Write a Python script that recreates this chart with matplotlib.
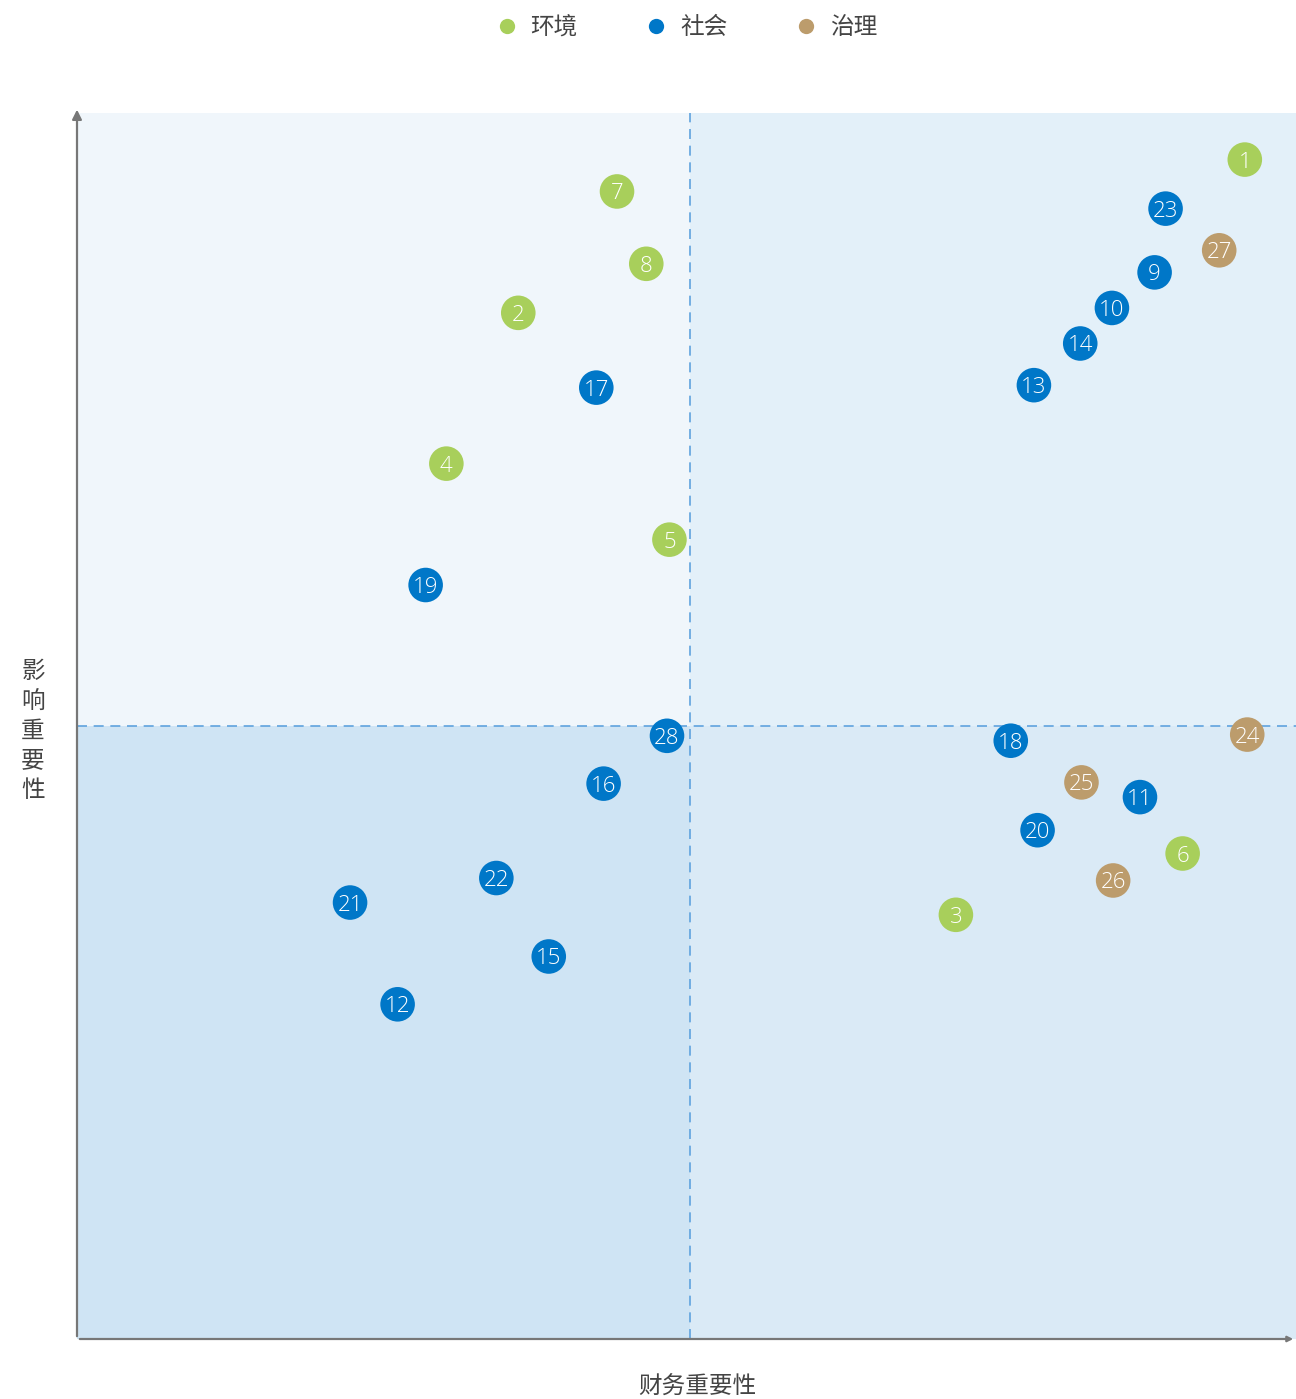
import matplotlib.pyplot as plt
from matplotlib.patches import Rectangle
from matplotlib.lines import Line2D

plt.rcParams['font.family'] = ['Noto Sans CJK SC', 'DejaVu Sans']

# data: issue id, financial materiality (x), impact materiality (y), category
ids = [1, 2, 3, 4, 5, 6, 7, 8, 9, 10, 11, 12, 13, 14,
       15, 16, 17, 18, 19, 20, 21, 22, 23, 24, 25, 26, 27, 28]
fin = [9.58, 3.62, 7.21, 3.03, 4.86, 9.07, 4.43, 4.67, 8.84, 8.49, 8.72, 2.63, 7.85, 8.23,
       3.87, 4.32, 4.26, 7.66, 2.86, 7.88, 2.24, 3.44, 8.93, 9.60, 8.24, 8.50, 9.37, 4.84]
imp = [9.62, 8.37, 3.46, 7.14, 6.52, 3.96, 9.36, 8.77, 8.70, 8.41, 4.42, 2.73, 7.78, 8.12,
       3.12, 4.53, 7.76, 4.88, 6.15, 4.15, 3.56, 3.76, 9.22, 4.93, 4.54, 3.74, 8.88, 4.92]
cat = ['环境', '环境', '环境', '环境', '环境', '环境', '环境', '环境', '社会', '社会', '社会', '社会', '社会', '社会',
       '社会', '社会', '社会', '社会', '社会', '社会', '社会', '社会', '社会', '治理', '治理', '治理', '治理', '社会']

categories = ['环境', '社会', '治理']
cat_colors = {'环境': '#A8CF5B', '社会': '#0077C8', '治理': '#BC9C6C'}

x_mid, y_mid = 5.03, 5.0
x_max, y_max = 10, 10

fig = plt.figure(figsize=(12.96, 13.99), dpi=100)
ax = fig.add_axes([77 / 1296, 60 / 1399, 1219 / 1296, 1226 / 1399])
ax.set_xlim(0, x_max)
ax.set_ylim(0, y_max)

# quadrant backgrounds
quads = [
    (0, y_mid, x_mid, y_max - y_mid, '#F0F6FB'),
    (x_mid, y_mid, x_max - x_mid, y_max - y_mid, '#E3F0F9'),
    (0, 0, x_mid, y_mid, '#CFE4F4'),
    (x_mid, 0, x_max - x_mid, y_mid, '#DAEAF6'),
]
for qx, qy, w, h, c in quads:
    ax.add_patch(Rectangle((qx, qy), w, h, facecolor=c, edgecolor='none', zorder=0))

ax.axvline(x_mid, color='#5FA3DE', linestyle=(0, (6, 4)), linewidth=1.2, zorder=1)
ax.axhline(y_mid, color='#5FA3DE', linestyle=(0, (6, 4)), linewidth=1.2, zorder=1)

# points
for i, x, y, c in zip(ids, fin, imp, cat):
    ax.scatter(x, y, s=620, color=cat_colors[c], edgecolors='none', zorder=3)
    ax.text(x, y, str(i), color='white', fontsize=16, ha='center', va='center_baseline',
            family=['Open Sans', 'DejaVu Sans'], fontweight='light', zorder=4)

# axes with arrows
for s in ['top', 'right', 'left', 'bottom']:
    ax.spines[s].set_visible(False)
ax.set_xticks([])
ax.set_yticks([])
ax.annotate('', xy=(0, 1.005), xytext=(0, 0), xycoords='axes fraction',
            arrowprops=dict(arrowstyle='-|>', color='#777777', lw=1.6, mutation_scale=14),
            annotation_clip=False)
ax.annotate('', xy=(1.0, 0), xytext=(0, 0), xycoords='axes fraction',
            arrowprops=dict(arrowstyle='-|>', color='#777777', lw=1.6, mutation_scale=8),
            annotation_clip=False)

fig.text(697 / 1296, 1 - 1387 / 1399, '财务重要性', ha='center', va='center',
         fontsize=17, color='#444444')
fig.text(33 / 1296, 1 - 731 / 1399, '影\n响\n重\n要\n性', ha='center', va='center',
         fontsize=17, color='#444444', linespacing=1.38)

handles = [Line2D([], [], marker='o', linestyle='none', markersize=11,
                  markerfacecolor=cat_colors[c], markeredgecolor='none', label=c)
           for c in categories]
fig.legend(handles=handles, loc='center', bbox_to_anchor=(686 / 1296, 1 - 28 / 1399),
           ncol=3, frameon=False, fontsize=17, columnspacing=2.85, handlelength=1.0,
           handletextpad=0.5, labelcolor='#444444')

fig.savefig('out.png', dpi=100)
